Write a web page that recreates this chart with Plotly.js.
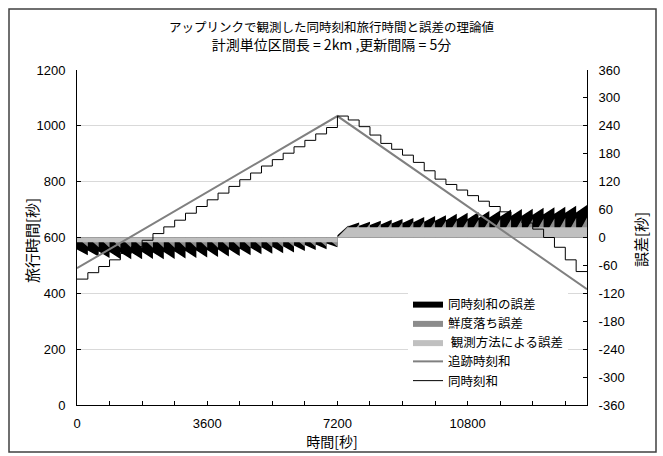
<!DOCTYPE html>
<html><head><meta charset="utf-8">
<script src="https://cdn.plot.ly/plotly-3.0.1.min.js"></script>
<style>html,body{margin:0;padding:0;background:#fff}</style>
</head><body><div id="chart" style="width:663px;height:456px"></div>
<script>
// ---- data (seconds) ----
const updateInterval = 300; // 5 min
const periodCount = 47;     // 0 .. 14100 s
// 同時刻和の誤差 (total error) at start / end of each update period
const totalErrStart = [-26,-28,-30,-31,-32,-32,-31,-32,-31,-30,-29,-28,-27,-26,-25,-24,-22,-21,-20,-19,-17,-16,-15,-13,
  5,24,25,27,28,30,31,33,34,36,37,39,40,42,43,45,46,47,49,50,51,53,54];
const totalErrEnd = [-38,-41,-44,-46,-47,-47,-46,-47,-46,-45,-44,-43,-42,-41,-40,-38,-36,-35,-34,-32,-29,-27,-25,-21,
  26,32,34,36,38,40,42,44,46,48,51,53,55,57,58,60,61,62,64,65,66,68,70];
// 鮮度落ち誤差 (freshness error) grows from 0 inside each period to this value
const freshErrEnd = [-20,-21,-22,-22,-22,-22,-22,-22,-22,-22,-22,-22,-22,-22,-22,-22,-21,-21,-21,-20,-20,-20,-20,-20,
  25,29,30,31,32,33,34,35,35,36,37,37,38,38,39,39,40,40,41,41,42,42,43];
// 観測方法による誤差 (observation-method error) at start / end of each period
const obsErrStart = [-10,-10,-10,-10,-10,-10,-10,-10,-10,-10,-10,-10,-10,-10,-10,-10,-10,-10,-10,-10,-10,-10,-10,-10,
  0,22,22,22,22,22,22,22,22,22,22,22,22,22,22,22,22,22,22,22,22,22,22];
const obsErrEnd = [-10,-10,-10,-10,-10,-10,-10,-10,-10,-10,-10,-10,-10,-10,-10,-10,-10,-10,-10,-10,-10,-10,-10,-10,
  22,22,22,22,22,22,22,22,22,22,22,22,22,22,22,22,22,22,22,22,22,22,22];
// 同時刻和 travel time (step, value held during each period)
const simulSum = [451,474,496,520,543,567,590,614,638,662,687,711,735,759,783,807,831,856,879,902,925,948,971,994,
  1035,1021,997,967,937,916,895,869,839,809,790,770,750,730,711,692,672,652,630,600,565,520,478];
// 追跡時刻和 travel time (vertices)
const trackTime = [0, 7200, 14100];
const trackSum = [490, 1035, 415];

// ---- build traces ----
function saw(startArr, endArr) {
  const x = [], y = [];
  for (let k = 0; k < periodCount; k++) {
    const t0 = k * updateInterval;
    x.push(t0, t0 + updateInterval);
    y.push(startArr[k], endArr[k]);
  }
  return {x, y};
}
const zeros = freshErrEnd.map(() => 0);
const sTot = saw(totalErrStart, totalErrEnd);
const sFresh = saw(zeros, freshErrEnd);
const sObs = saw(obsErrStart, obsErrEnd);

const stepX = [], stepY = [];
for (let k = 0; k < periodCount; k++) { stepX.push(k * updateInterval); stepY.push(simulSum[k]); }
stepX.push(periodCount * updateInterval); stepY.push(simulSum[periodCount - 1]);

const fillTrace = (s, name, color) => ({
  type: 'scatter', mode: 'lines', x: s.x, y: s.y, name: name,
  fill: 'tozeroy', fillcolor: color, line: {width: 0, color: color},
  xaxis: 'x', yaxis: 'y', hoverinfo: 'skip'
});

const data = [
  fillTrace(sTot, '同時刻和の誤差', '#000000'),
  fillTrace(sFresh, '鮮度落ち誤差', '#8c8c8c'),
  fillTrace(sObs, '\u00a0観測方法による誤差', '#c0c0c0'),
  {type: 'scatter', mode: 'lines', x: trackTime, y: trackSum, name: '追跡時刻和',
   line: {color: '#808080', width: 2}, xaxis: 'x', yaxis: 'y2'},
  {type: 'scatter', mode: 'lines', x: stepX, y: stepY, name: '同時刻和',
   line: {color: '#000000', width: 1, shape: 'hv'}, xaxis: 'x', yaxis: 'y2'}
];

const L = 77, R = 76, T = 70, B = 51, W = 663, H = 456;
const pw = W - L - R, ph = H - T - B;
const px = v => (v - L) / pw, py = v => (H - B - v) / ph;

const errTicks = [], errText = [];
for (let v = -360; v <= 360; v += 60) { errTicks.push(v); errText.push(String(v)); }

const jp = 'Noto Sans CJK JP';
const layout = {
  width: W, height: H,
  margin: {l: L, r: R, t: T, b: B},
  paper_bgcolor: '#ffffff', plot_bgcolor: '#ffffff',
  font: {family: 'Liberation Sans, Arial, sans-serif', size: 13, color: '#000'},
  title: {
    text: '<span style="font-size:12.5px">アップリンクで観測した同時刻和旅行時間と誤差の理論値</span><br>計測単位区間長 = 2km ,更新間隔 = 5分',
    x: 0.5, xanchor: 'center', y: 1 - 32 / H, yanchor: 'top', yref: 'container',
    font: {family: jp, size: 14, color: '#000'}
  },
  showlegend: true,
  legend: {
    x: px(408), xanchor: 'left', y: py(289), yanchor: 'top',
    bgcolor: '#ffffff', borderwidth: 0, traceorder: 'normal',
    font: {family: jp, size: 12.5, color: '#000'}, itemwidth: 30
  },
  xaxis: {
    range: [0, 14100], tick0: 0, dtick: 3600, tickformat: 'd', ticks: 'inside', ticklen: 4, tickcolor: '#000',
    showline: true, linecolor: '#000', linewidth: 1, showgrid: false, zeroline: false,
    minor: {tick0: 0, dtick: 900, ticks: 'inside', ticklen: 4, tickcolor: '#000', showgrid: false},
    ticklabelstandoff: 6,
    title: {text: '時間[秒]', font: {family: jp, size: 14}, standoff: 6}
  },
  yaxis: {
    side: 'right', range: [-360, 360], tickmode: 'array', tickvals: errTicks, ticktext: errText,
    ticks: 'inside', ticklen: 4, tickcolor: '#000', showline: true, linecolor: '#000', linewidth: 1,
    showgrid: false, zeroline: false, ticklabelstandoff: 8
  },
  yaxis2: {
    overlaying: 'y', side: 'left', range: [0, 1200], tick0: 0, dtick: 200,
    ticks: 'inside', ticklen: 4, tickcolor: '#000', showline: true, linecolor: '#000', linewidth: 1,
    showgrid: true, gridcolor: '#d9d9d9', gridwidth: 1, zeroline: false, ticklabelstandoff: 8
  },
  annotations: [
    {text: '旅行時間[秒]', textangle: -90, xref: 'paper', yref: 'paper', x: px(31), y: py(241),
     xanchor: 'center', yanchor: 'middle', showarrow: false, font: {family: jp, size: 15, color: '#000'}},
    {text: '誤差[秒]', textangle: -90, xref: 'paper', yref: 'paper', x: px(640), y: py(240),
     xanchor: 'center', yanchor: 'middle', showarrow: false, font: {family: jp, size: 15, color: '#000'}}
  ],
  shapes: [{
    type: 'rect', xref: 'paper', yref: 'paper',
    x0: px(9), x1: px(656), y0: py(452), y1: py(9),
    line: {color: '#404040', width: 1.5}, fillcolor: 'rgba(0,0,0,0)', layer: 'below'
  }]
};

Plotly.newPlot('chart', data, layout, {staticPlot: true, displayModeBar: false});
</script>
</body></html>
